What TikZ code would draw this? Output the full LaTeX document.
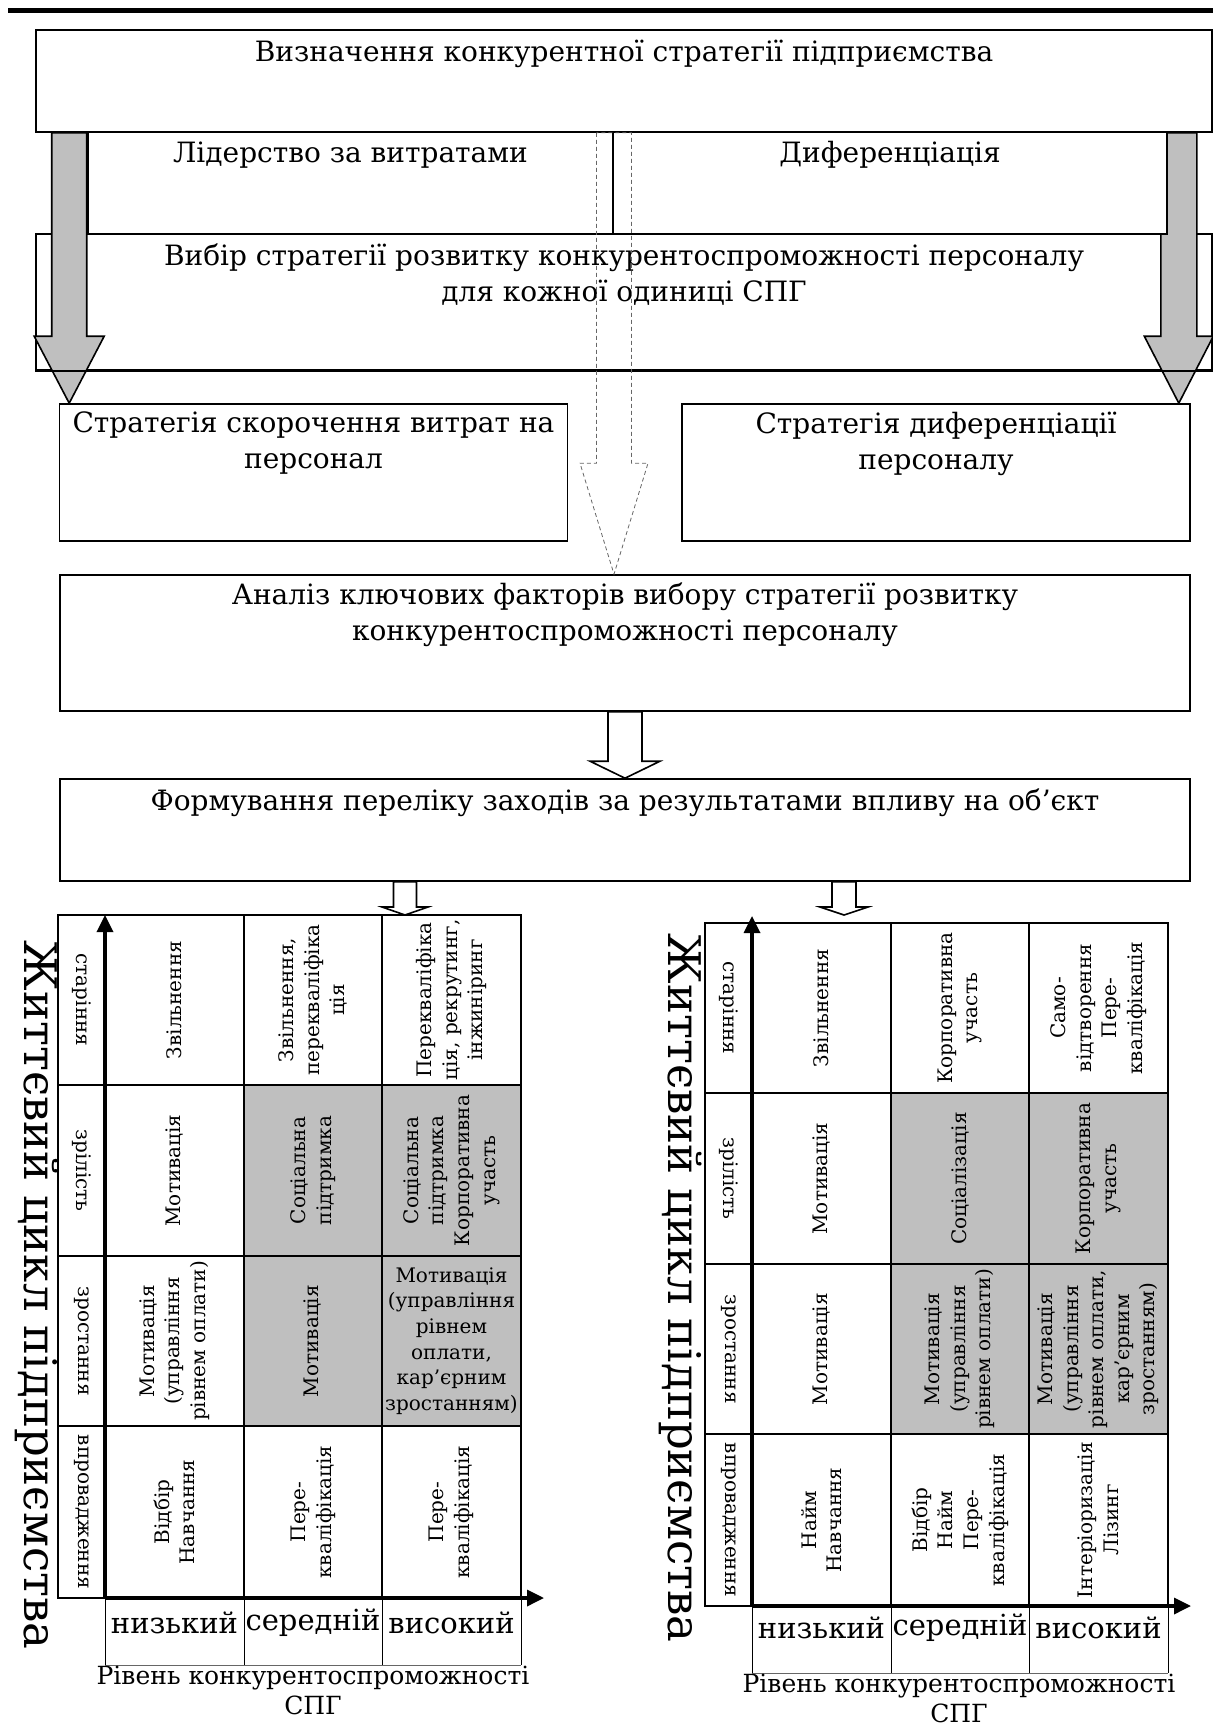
\documentclass[tikz,border=0pt]{standalone}
\usepackage{fontspec}
\setmainfont{DejaVu Serif}
\usetikzlibrary{calc,arrows.meta}

\tikzset{
  blk/.style={draw, line width=0.8pt, fill=white, inner sep=0pt},
  blktxt/.style={anchor=north, align=center, inner sep=0pt, font=\fontsize{14}{18}\selectfont},
  cell/.style={align=center, inner sep=0pt, font=\fontsize{10}{12.8}\selectfont},
  vcell/.style={cell, rotate=90},
  stage/.style={cell, rotate=-90},
  lvl/.style={inner sep=0pt, font=\fontsize{14.5}{17}\selectfont},
  rank/.style={align=center, inner sep=0pt, font=\fontsize{12.5}{15}\selectfont},
  life/.style={rotate=-90, inner sep=0pt, font=\fontsize{22.5}{26}\selectfont},
  axis/.style={line width=1.7pt, -{Triangle[length=8.5pt, width=8pt]}},
  grid/.style={line width=1pt},
  grayarrow/.style={draw, line width=0.8pt, fill=black!25},
  hollowarrow/.style={draw, line width=0.8pt, fill=white},
  dasharrow/.style={draw=black!60, line width=0.4pt, dash pattern=on 2pt off 1.5pt}
}

% block arrow: style, from, to, half shaft, half head, head length
\newcommand\blockarrow[6]{%
  \draw[#1] ($(#2)+(-#4,0)$) -- ($(#3)+(-#4,-#6)$) -- ($(#3)+(-#5,-#6)$) -- (#3)
    -- ($(#3)+(#5,-#6)$) -- ($(#3)+(#4,-#6)$) -- ($(#2)+(#4,0)$) -- cycle;}

\begin{document}
\begin{tikzpicture}[x=0.5pt, y=-0.5pt]
  \useasboundingbox (0,0) rectangle (1213,1724);

  \draw[line width=2.2pt] (8,10.5) -- (1213,10.5);

  % upper blocks
  \node[blk, minimum width=588pt, minimum height=51pt] (strat) at (624,81) {};
  \node[blktxt] (strattxt) at ([yshift=-5pt]strat.north) {Визначення конкурентної стратегії підприємства};

  \node[blk, minimum width=588pt, minimum height=68pt] (vybir) at (624,302) {};

  \coordinate (la0) at ($(strat.south west)+(34,0)$);
  \coordinate (ra0) at ($(strat.south east)+(-34,0)$);
  \node[blk, minimum width=254pt, minimum height=68.5pt] (skor) at (313.5,472.5) {};
  \node[blk, minimum width=254pt, minimum height=68.5pt] (dyfpers) at (936,472.5) {};
  \coordinate (la1) at (la0 |- skor.north);
  \coordinate (ra1) at (ra0 |- dyfpers.north);
  \blockarrow{grayarrow}{la0}{la1}{17.5}{35}{67}
  \blockarrow{grayarrow}{ra0}{ra1}{18}{34.5}{67}

  \node[blk, minimum width=262.5pt, minimum height=51pt] (lider) at (350.5,183) {};
  \node[blk, minimum width=277pt, minimum height=51pt] (dyfer) at (890,183) {};
  \node[blktxt] (lidertxt) at ([yshift=-5pt]lider.north) {Лідерство за витратами};
  \node[blktxt] (dyfertxt) at ([yshift=-5pt]dyfer.north) {Диференціація};
  \draw[line width=0.8pt] (vybir.south west) -- (vybir.south east);
  \node[blktxt] (vybirtxt) at ([yshift=-5pt]vybir.north) {Вибір стратегії розвитку конкурентоспроможності персоналу\\для кожної одиниці СПГ};

  \node[blktxt] (skortxt) at ([yshift=-4pt]skor.north) {Стратегія скорочення витрат на\\персонал};
  \node[blktxt] (dyfperstxt) at ([yshift=-4pt]dyfpers.north) {Стратегія диференціації\\персоналу};

  \node[blk, minimum width=565pt, minimum height=68pt] (analiz) at (625,643) {};
  \node[blktxt] (analiztxt) at ([yshift=-4pt]analiz.north) {Аналіз ключових факторів вибору стратегії розвитку\\конкурентоспроможності персоналу};

  \node[blk, minimum width=565pt, minimum height=51pt] (formuv) at (625,830) {};
  \node[blktxt] (formuvtxt) at ([yshift=-5pt]formuv.north) {Формування переліку заходів за результатами впливу на об’єкт};

  \blockarrow{hollowarrow}{analiz.south}{formuv.north}{17}{35}{17}

  \coordinate (da0) at ($(strat.south)+(-10,0)$);
  \coordinate (da1) at (da0 |- analiz.north);
  \blockarrow{dasharrow}{da0}{da1}{17.5}{34}{111}

  % left matrix
  \begin{scope}[shift={(58,915)}]
    \coordinate (ltop) at (0,0);
    \fill[black!25] (186,170) rectangle (463,511);
    \draw[grid] (0,0) rectangle (463,683);
    \draw[grid] (186,0) -- (186,683) (324,0) -- (324,683);
    \draw[grid] (0,170) -- (463,170) (0,341) -- (463,341) (0,511) -- (463,511);
    \draw[axis] (47,683) -- (47,0);
    \draw[axis] (47,683) -- (486,683);
    \draw[line width=0.4pt] (47,683) -- (47,750) (186,683) -- (186,750) (324,683) -- (324,750) (463,683) -- (463,750);
    \draw[line width=0.4pt, black!60] (47,750) -- (463,750);

    \node[stage] (ls1) at (23.5,85) {старіння};
    \node[stage] (ls2) at (23.5,255.5) {зрілість};
    \node[stage] (ls3) at (23.5,426) {зростання};
    \node[stage] (ls4) at (23.5,597) {впровадження};

    \node[vcell] (l11) at (116.5,85) {Звільнення};
    \node[vcell] (l12) at (255,85) {Звільнення,\\перекваліфіка\\ція};
    \node[vcell] (l13) at (393.5,85) {Перекваліфіка\\ція, рекрутинг,\\інжиніринг};
    \node[vcell] (l21) at (116.5,255.5) {Мотивація};
    \node[vcell] (l22) at (255,255.5) {Соціальна\\підтримка};
    \node[vcell] (l23) at (393.5,255.5) {Соціальна\\підтримка\\Корпоративна\\участь};
    \node[vcell] (l31) at (116.5,426) {Мотивація\\(управління\\рівнем оплати)};
    \node[vcell] (l32) at (255,426) {Мотивація};
    \node[cell] (l33) at (393.5,426) {Мотивація\\(управління\\рівнем\\оплати,\\кар’єрним\\зростанням)};
    \node[vcell] (l41) at (116.5,597) {Відбір\\Навчання};
    \node[vcell] (l42) at (255,597) {Пере-\\кваліфікація};
    \node[vcell] (l43) at (393.5,597) {Пере-\\кваліфікація};

    \node[lvl] (llow) at (116.5,708) {низький};
    \node[lvl] (lmid) at (255,708) {середній};
    \node[lvl] (lhigh) at (393.5,708) {високий};
    \node[rank] (lrank) at (255,775) {Рівень конкурентоспроможності\\СПГ};
    \node[life] (llife) at (-21,380) {Життєвий цикл підприємства};
  \end{scope}

  % right matrix
  \begin{scope}[shift={(705,923)}]
    \coordinate (rtop) at (0,0);
    \fill[black!25] (186,170) rectangle (463,511);
    \draw[grid] (0,0) rectangle (463,683);
    \draw[grid] (186,0) -- (186,683) (324,0) -- (324,683);
    \draw[grid] (0,170) -- (463,170) (0,341) -- (463,341) (0,511) -- (463,511);
    \draw[axis] (47,683) -- (47,-7);
    \draw[axis] (47,683) -- (486,683);
    \draw[line width=0.4pt] (47,683) -- (47,750) (186,683) -- (186,750) (324,683) -- (324,750) (463,683) -- (463,750);
    \draw[line width=0.4pt, black!60] (47,750) -- (463,750);

    \node[stage] (rs1) at (23.5,85) {старіння};
    \node[stage] (rs2) at (23.5,255.5) {зрілість};
    \node[stage] (rs3) at (23.5,426) {зростання};
    \node[stage] (rs4) at (23.5,597) {впровадження};

    \node[vcell] (r11) at (116.5,85) {Звільнення};
    \node[vcell] (r12) at (255,85) {Корпоративна\\участь};
    \node[vcell] (r13) at (393.5,85) {Само-\\відтворення\\Пере-\\кваліфікація};
    \node[vcell] (r21) at (116.5,255.5) {Мотивація};
    \node[vcell] (r22) at (255,255.5) {Соціалізація};
    \node[vcell] (r23) at (393.5,255.5) {Корпоративна\\участь};
    \node[vcell] (r31) at (116.5,426) {Мотивація};
    \node[vcell] (r32) at (255,426) {Мотивація\\(управління\\рівнем оплати)};
    \node[vcell] (r33) at (393.5,426) {Мотивація\\(управління\\рівнем оплати,\\кар’єрним\\зростанням)};
    \node[vcell] (r41) at (116.5,597) {Найм\\Навчання};
    \node[vcell] (r42) at (255,597) {Відбір\\Найм\\Пере-\\кваліфікація};
    \node[vcell] (r43) at (393.5,597) {Інтеріоризація\\Лізинг};

    \node[lvl] (rlow) at (116.5,705) {низький};
    \node[lvl] (rmid) at (255,705) {середній};
    \node[lvl] (rhigh) at (393.5,705) {високий};
    \node[rank] (rrank) at (254,775) {Рівень конкурентоспроможності\\СПГ};
    \node[life] (rlife) at (-24,365) {Життєвий цикл підприємства};
  \end{scope}

  % arrows into the matrices
  \coordinate (fa0) at ($(formuv.south)+(-220,0)$);
  \coordinate (fb0) at ($(formuv.south)+(219,0)$);
  \coordinate (fa1) at (fa0 |- ltop);
  \coordinate (fb1) at (fb0 |- ltop);
  \blockarrow{hollowarrow}{fa0}{fa1}{11.5}{23}{8}
  \blockarrow{hollowarrow}{fb0}{fb1}{12}{24}{8}

\end{tikzpicture}
\end{document}
